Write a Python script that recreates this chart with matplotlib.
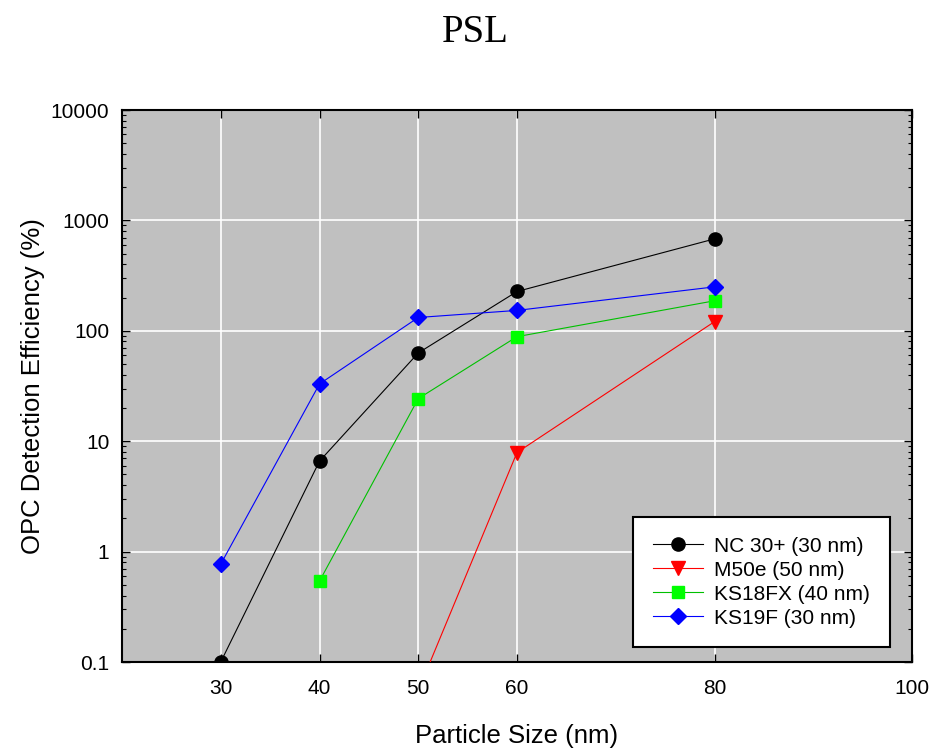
import matplotlib
matplotlib.use('Agg')
import matplotlib.pyplot as plt
from matplotlib.ticker import LogLocator, FixedLocator, NullFormatter

plt.rcParams['font.family'] = ['Liberation Sans', 'DejaVu Sans']

sizes_nc = [30, 40, 50, 60, 80]
eff_nc = [0.1, 6.6, 63, 227, 680]

sizes_m50 = [50, 60, 80]
eff_m50 = [0.055, 7.9, 121]

sizes_ks18 = [40, 50, 60, 80]
eff_ks18 = [0.54, 24.3, 88.5, 187]

sizes_ks19 = [30, 40, 50, 60, 80]
eff_ks19 = [0.77, 33, 132, 153, 250]

x_ticks = [30, 40, 50, 60, 80, 100]
y_ticks = [0.1, 1, 10, 100, 1000, 10000]
y_ticklabels = ['0.1', '1', '10', '100', '1000', '10000']

fig = plt.figure(figsize=(9.34, 7.49), dpi=100)
ax = fig.add_axes([122 / 934, 87 / 749, 790 / 934, 552 / 749])
ax.set_facecolor('#c0c0c0')

ax.plot(sizes_nc, eff_nc, color='black', lw=0.8, marker='o', ms=9.5,
        mfc='black', mec='black', label='NC 30+ (30 nm)', zorder=3)
ax.plot(sizes_m50, eff_m50, color='red', lw=0.8, marker='v', ms=10,
        mfc='red', mec='red', label='M50e (50 nm)', zorder=3)
ax.plot(sizes_ks18, eff_ks18, color='#00c000', lw=0.8, marker='s', ms=8.5,
        mfc='#00ff00', mec='#00ff00', label='KS18FX (40 nm)', zorder=3)
ax.plot(sizes_ks19, eff_ks19, color='blue', lw=0.8, marker='D', ms=8.5,
        mfc='blue', mec='blue', label='KS19F (30 nm)', zorder=3)

ax.set_yscale('log')
ax.set_xlim(20, 100)
ax.set_ylim(0.1, 10000)

ax.xaxis.set_major_locator(FixedLocator(x_ticks))
ax.set_xticklabels([str(t) for t in x_ticks])
ax.yaxis.set_major_locator(FixedLocator(y_ticks))
ax.set_yticklabels(y_ticklabels)
ax.yaxis.set_minor_locator(LogLocator(base=10, subs=range(2, 10)))
ax.yaxis.set_minor_formatter(NullFormatter())

ax.tick_params(axis='both', which='major', direction='in', length=6, width=1,
               top=True, right=True, labelsize=15)
ax.tick_params(axis='y', which='minor', direction='in', length=3, width=0.8,
               left=True, right=True)
ax.tick_params(axis='x', which='major', pad=12)
ax.tick_params(axis='y', which='major', pad=9)

ax.grid(True, which='major', color='white', lw=1.2)
ax.set_axisbelow(True)
for sp in ax.spines.values():
    sp.set_linewidth(1.5)

ax.set_xlabel('Particle Size (nm)', fontsize=18.5)
ax.xaxis.set_label_coords(0.5, -0.112)
ax.set_ylabel('OPC Detection Efficiency (%)', fontsize=18.5)
ax.yaxis.set_label_coords(-0.098, 0.5)

fig.text(475 / 934, 1 - 32 / 749, 'PSL', fontsize=28, ha='center', va='center',
         family=['Liberation Serif', 'DejaVu Serif'])

leg = ax.legend(loc='upper left', bbox_to_anchor=(0.647, 0.263), borderaxespad=0,
                fontsize=15, numpoints=1, handlelength=2.4, handletextpad=0.55,
                labelspacing=0.24, borderpad=0.95, fancybox=False, framealpha=1,
                edgecolor='black')
leg.get_frame().set_linewidth(1.5)

fig.savefig('out.png', dpi=100)
